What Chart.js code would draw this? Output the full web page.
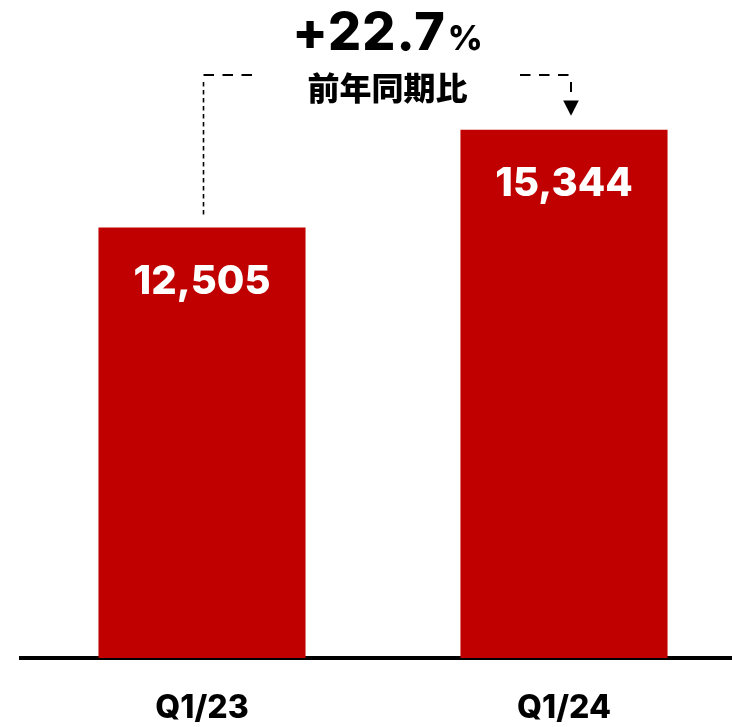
<!DOCTYPE html>
<html>
<head>
<meta charset="utf-8">
<script src="https://cdn.jsdelivr.net/npm/chart.js@4.4.1/dist/chart.umd.min.js"></script>
<style>
  html, body { margin: 0; padding: 0; background: #fff; overflow: hidden; }
  #wrap { width: 732px; height: 727px; overflow: hidden; position: relative; }
  canvas { display: block; }
</style>
</head>
<body>
<div id="wrap"><canvas id="c" width="745" height="758"></canvas></div>
<script>
// Quarterly figures
const quarters = ['Q1/23', 'Q1/24'];
const revenue = [12505, 15344];
const yoyCaption = '前年同期比';

const BAR_RED = '#C00000';
const NUM_FONT = 'Inter, "Liberation Sans", Arial, sans-serif';
const CJK_FONT = '"Noto Sans CJK JP", "Noto Sans", sans-serif';

// Year-over-year growth in percent, one decimal
const growth = ((revenue[1] / revenue[0] - 1) * 100).toFixed(1);

const fmt = v => v.toLocaleString('en-US');

// Value labels inside the bars plus the YoY bracket above them
const annotate = {
  id: 'annotate',
  afterDatasetsDraw(chart) {
    const ctx = chart.ctx;
    const bars = chart.getDatasetMeta(0).data;
    const b0 = bars[0], b1 = bars[1];

    ctx.save();
    // values inside bars
    ctx.fillStyle = '#ffffff';
    ctx.font = `800 40px ${NUM_FONT}`;
    ctx.textAlign = 'center';
    ctx.textBaseline = 'alphabetic';
    bars.forEach((bar, i) => {
      ctx.fillText(fmt(revenue[i]), bar.x, bar.y + 66);
    });

    // growth headline
    const cx = (b0.x + b1.x) / 2 + 4.5;
    const big = '+' + growth;
    ctx.fillStyle = '#000000';
    ctx.letterSpacing = '1px';
    ctx.font = `800 52px ${NUM_FONT}`;
    const wBig = ctx.measureText(big).width;
    ctx.letterSpacing = '0px';
    ctx.font = `800 34px ${NUM_FONT}`;
    const wPct = ctx.measureText('%').width;
    const gap = 2;
    const x = cx - (wBig + gap + wPct) / 2;
    ctx.textAlign = 'left';
    ctx.letterSpacing = '1px';
    ctx.font = `800 52px ${NUM_FONT}`;
    ctx.fillText(big, x, 50);
    ctx.letterSpacing = '0px';
    ctx.font = `800 34px ${NUM_FONT}`;
    ctx.fillText('%', x + wBig + gap, 50);

    // caption
    ctx.textAlign = 'center';
    ctx.textBaseline = 'middle';
    ctx.font = `900 32px ${CJK_FONT}`;
    ctx.fillText(yoyCaption, cx, 88);

    // bracket
    const lineY = 75;
    const leftX = b0.x + 1.5;
    const rightX = b1.x + 7;
    ctx.strokeStyle = '#000000';
    ctx.lineCap = 'butt';

    // horizontal dashed runs
    ctx.lineWidth = 2;
    ctx.setLineDash([10.5, 8.5]);
    ctx.beginPath();
    ctx.moveTo(leftX, lineY);
    ctx.lineTo(cx - 127, lineY);
    ctx.stroke();
    ctx.beginPath();
    ctx.moveTo(cx + 132.5, lineY);
    ctx.lineTo(rightX - 1, lineY);
    ctx.stroke();

    // left drop line to first bar
    ctx.lineWidth = 1.6;
    ctx.setLineDash([4.5, 3.5]);
    ctx.beginPath();
    ctx.moveTo(leftX, lineY + 7);
    ctx.lineTo(leftX, b0.y - 11);
    ctx.stroke();

    // right drop line with arrow head to second bar
    ctx.lineWidth = 2;
    ctx.setLineDash([]);
    ctx.beginPath();
    ctx.moveTo(rightX, lineY + 7);
    ctx.lineTo(rightX, lineY + 17);
    ctx.stroke();
    const tipY = b1.y - 14;
    ctx.beginPath();
    ctx.moveTo(rightX - 7.8, tipY - 15.3);
    ctx.lineTo(rightX + 7.8, tipY - 15.3);
    ctx.lineTo(rightX, tipY);
    ctx.closePath();
    ctx.fill();
    ctx.restore();
  }
};

new Chart(document.getElementById('c'), {
  type: 'bar',
  data: {
    labels: quarters,
    datasets: [{
      data: revenue,
      backgroundColor: BAR_RED,
      borderWidth: 0,
      categoryPercentage: 1,
      barPercentage: 0.572
    }]
  },
  options: {
    responsive: false,
    animation: false,
    layout: { padding: { top: 4, left: 21, right: 0, bottom: 0 } },
    plugins: { legend: { display: false }, tooltip: { enabled: false } },
    scales: {
      x: {
        z: 1,
        grid: { display: false, drawTicks: false },
        border: { display: true, color: '#000000', width: 4 },
        ticks: {
          color: '#000000',
          padding: 32,
          font: { family: NUM_FONT, size: 32, weight: '800', lineHeight: 1.125 }
        }
      },
      y: {
        display: false,
        min: 0,
        max: 19000
      }
    }
  },
  plugins: [annotate]
});
</script>
</body>
</html>
